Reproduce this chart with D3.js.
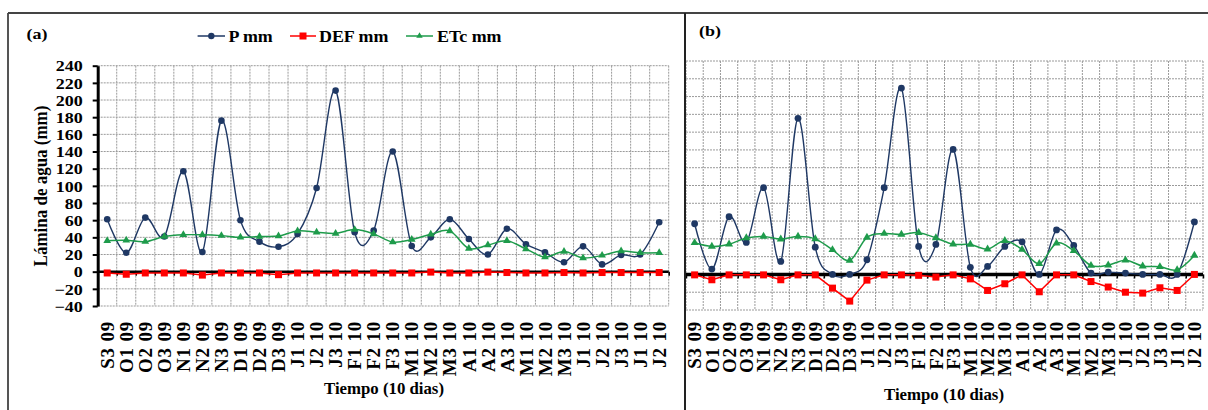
<!DOCTYPE html>
<html><head><meta charset="utf-8">
<script src="https://cdn.jsdelivr.net/npm/d3@7"></script>
<style>
body{margin:0;background:#fff}
svg{display:block}
text{font-family:"Liberation Serif","Times New Roman",serif;font-weight:bold;fill:#000}
</style>
</head><body>
<svg id="c" width="1208" height="410"></svg>
<script>
const categories = ["S3 09","O1 09","O2 09","O3 09","N1 09","N2 09","N3 09","D1 09","D2 09","D3 09",
  "J1 10","J2 10","J3 10","F1 10","F2 10","F3 10","M1 10","M2 10","M3 10","A1 10",
  "A2 10","A3 10","M1 10","M2 10","M3 10","J1 10","J2 10","J3 10","J1 10","J2 10"];
const yTicks = [240,220,200,180,160,140,120,100,80,60,40,20,0,-20,-40];
const seriesNames = ["P mm","DEF mm","ETc mm"];

// Panel (a)
const pA   = [61,22,63,41,117,23,176,60,35,29,44,97.5,211,46,48,140,30,40,61,38,20,50,32,22.5,11,29.5,8.5,19.5,20,57.6];
const defA = [-1.5,-3,-1.5,-1.5,-1.5,-4,-1.5,-1.5,-1.5,-3.5,-1.5,-1.5,-1.5,-1.5,-1.5,-1.5,-1.5,-0.5,-1.5,-1.5,-0.5,-1,-1.5,-1.5,-1,-1.5,-1,-1,-1,-1];
const etcA = [36,36.5,35,41,43,43,42,40,41,41.5,47.5,46,44.5,49,44,34.5,37.5,43.5,47.5,27,31,36,26.5,17,23.5,16,19,24,22,22];

// Panel (b)
const pB   = [57,6,65,36,97.5,14.6,175.5,30.7,0,0,16.5,97.5,209.5,31.5,33.7,140.6,8,9,31.5,36.7,0,50,32.6,1.5,2.6,1.5,0,0,0,59];
const defB = [-0.5,-6,-0.5,-0.5,-0.5,-6,-0.5,-0.5,-15.4,-30,-6.4,-0.5,-0.5,-1,-3,-0.5,-5,-18,-10.5,-0.5,-19.5,-0.5,-0.5,-8,-14.2,-20,-21,-15,-18,0];
const etcB = [35.6,31.5,34,41,42.7,39.7,42.7,40,27.7,15.7,41.6,46,45,47,41,34,33.7,28.5,37.9,28,12,35,26.6,10,10.5,16,9.4,8.6,5.2,21.4];

const colP = "#1F3864", colD = "#FF0000", colE = "#1E9B4B";
const svg = d3.select("#c");
svg.append("rect").attr("width",1208).attr("height",410).attr("fill","#fff");

function panel(cfg){
  const n = categories.length;
  const xb = d3.scaleBand().domain(d3.range(n)).range([cfg.x0,cfg.x1]).padding(0);
  const xl = d3.scaleLinear().domain([0,n]).range([cfg.x0,cfg.x1]);
  const xc = i => xb(i) + xb.bandwidth()/2;
  const y = d3.scaleLinear().domain([-40,240]).range([cfg.yb,cfg.yt]);
  const g = svg.append("g");

  // grid
  const grid = g.append("g").attr("stroke","#9a9a9a").attr("stroke-width",1).attr("stroke-dasharray","2,1");
  grid.selectAll(".h").data(yTicks).join("line")
    .attr("x1",cfg.x0).attr("x2",cfg.x1).attr("y1",d=>y(d)).attr("y2",d=>y(d));
  grid.selectAll(".v").data(d3.range(n+1)).join("line")
    .attr("x1",d=>xl(d)).attr("x2",d=>xl(d)).attr("y1",cfg.yt).attr("y2",cfg.yb);

  // y axis (left panel only)
  if(cfg.yAxis){
    const ya = g.append("g").attr("transform",`translate(${cfg.x0},0)`)
      .call(d3.axisLeft(y).tickValues(yTicks).tickSize(5).tickSizeOuter(0));
    ya.select(".domain").attr("stroke","#000").attr("stroke-width",3);
    ya.selectAll(".tick line").attr("stroke","#000").attr("stroke-width",2);
    ya.selectAll(".tick text").attr("x",-12.5).attr("dy","0.35em")
      .attr("transform","scale(1.2,1)").style("font-size","15px")
      .style("font-family",'"Liberation Serif",serif').style("font-weight","bold");
  }

  // x axis: boundary ticks + zero line
  const y0 = y(0);
  const xt = g.append("g").attr("transform",`translate(0,${y0})`)
    .call(d3.axisBottom(xl).tickValues(d3.range(n+1)).tickSize(cfg.tick).tickFormat(""));
  xt.select(".domain").remove();
  xt.selectAll(".tick line").attr("stroke","#000").attr("stroke-width",1.5);
  g.append("line").attr("x1",cfg.x0).attr("x2",cfg.x1).attr("y1",y0).attr("y2",y0)
    .attr("stroke","#000").attr("stroke-width",cfg.zeroW);

  // x labels
  const xa = g.append("g").attr("transform",`translate(0,${y0})`)
    .call(d3.axisBottom(xb).tickSize(0).tickFormat(i=>categories[i]));
  xa.select(".domain").remove();
  xa.selectAll(".tick text")
    .attr("y",0).attr("x",0).attr("dy","0.35em")
    .attr("text-anchor","end")
    .attr("transform",`translate(0,${cfg.labTop - y0}) rotate(-90)`)
    .style("font-size","19px").style("letter-spacing","0.8px")
    .style("font-family",'"Liberation Serif",serif').style("font-weight","bold");

  // series
  const smooth = d3.line().x((d,i)=>xc(i)).y(d=>y(d)).curve(d3.curveCardinal.tension(0));
  const straight = d3.line().x((d,i)=>xc(i)).y(d=>y(d));

  g.append("path").attr("d",smooth(cfg.p)).attr("fill","none").attr("stroke",colP).attr("stroke-width",1.4);
  g.selectAll(".pm").data(cfg.p).join("circle").attr("cx",(d,i)=>xc(i)).attr("cy",d=>y(d)).attr("r",cfg.r).attr("fill",colP);

  g.append("path").attr("d",straight(cfg.def)).attr("fill","none").attr("stroke",colD).attr("stroke-width",1.5);
  g.selectAll(".dm").data(cfg.def).join("rect").attr("x",(d,i)=>xc(i)-cfg.sq/2).attr("y",d=>y(d)-cfg.sq/2)
    .attr("width",cfg.sq).attr("height",cfg.sq).attr("fill",colD);

  g.append("path").attr("d",smooth(cfg.etc)).attr("fill","none").attr("stroke",colE).attr("stroke-width",1.5);
  g.selectAll(".em").data(cfg.etc).join("path").attr("d",d3.symbol(d3.symbolTriangle,cfg.tri))
    .attr("transform",(d,i)=>`translate(${xc(i)},${y(d)})`).attr("fill",colE);

  // x title
  g.append("text").attr("transform",`translate(${cfg.titleX},${cfg.titleY}) scale(1.05,1)`)
    .attr("text-anchor","middle").style("font-size","16px").text("Tiempo (10 dias)");
}

// frames
svg.append("line").attr("x1",8).attr("x2",8).attr("y1",13).attr("y2",410).attr("stroke","#555").attr("stroke-width",2);
svg.append("line").attr("x1",8).attr("x2",1208).attr("y1",13).attr("y2",13).attr("stroke","#444").attr("stroke-width",2);

panel({x0:97.7,x1:668.7,yt:65.7,yb:306,yAxis:true,p:pA,def:defA,etc:etcA,r:3.3,sq:7,tri:26,zeroW:2.5,tick:4,
  labTop:321,titleX:384,titleY:394});
panel({x0:686,x1:1203,yt:61,yb:310,yAxis:false,p:pB,def:defB,etc:etcB,r:3.4,sq:7,tri:28,zeroW:3.5,tick:4,
  labTop:321,titleX:944,titleY:400});

svg.append("line").attr("x1",685).attr("x2",685).attr("y1",13).attr("y2",410).attr("stroke","#222").attr("stroke-width",2);

// panel letters
svg.append("text").attr("transform","translate(26.5,39) scale(1.2,1)").style("font-size","15px").text("(a)");
svg.append("text").attr("transform","translate(699,36) scale(1.2,1)").style("font-size","15px").text("(b)");

// y label
svg.append("text").attr("transform","translate(40,186) scale(1.15,1) rotate(-90)")
  .attr("text-anchor","middle").attr("dy","0.35em").style("font-size","17px").text("Lámina de agua (mm)");

// legend
const legend = [
  {name:seriesNames[0], col:colP, x1:197.6, x2:225, tx:228.5, m:"c"},
  {name:seriesNames[1], col:colD, x1:290, x2:316, tx:319, m:"s"},
  {name:seriesNames[2], col:colE, x1:406, x2:433, tx:437, m:"t"}
];
const lg = svg.append("g");
const ly = 36;
legend.forEach(d=>{
  lg.append("line").attr("x1",d.x1).attr("x2",d.x2).attr("y1",ly).attr("y2",ly).attr("stroke",d.col).attr("stroke-width",1.5);
  const mx = (d.x1+d.x2)/2;
  if(d.m==="c") lg.append("circle").attr("cx",mx).attr("cy",ly).attr("r",3.2).attr("fill",d.col);
  if(d.m==="s") lg.append("rect").attr("x",mx-3.5).attr("y",ly-3.5).attr("width",7).attr("height",7).attr("fill",d.col);
  if(d.m==="t") lg.append("path").attr("d",d3.symbol(d3.symbolTriangle,18)).attr("transform",`translate(${mx},${ly})`).attr("fill",d.col);
  lg.append("text").attr("transform",`translate(${d.tx},${ly+5.5}) scale(1.12,1)`).style("font-size","16px").text(d.name);
});
</script>
</body></html>
